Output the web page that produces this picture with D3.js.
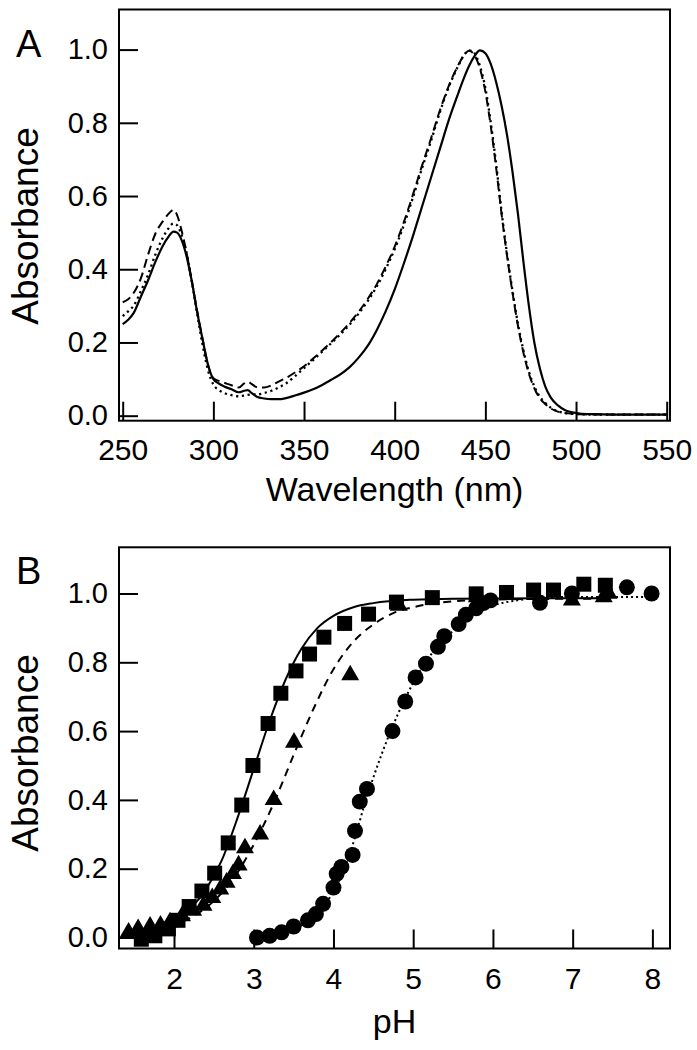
<!DOCTYPE html>
<html>
<head>
<meta charset="utf-8">
<script src="https://cdn.jsdelivr.net/npm/d3@7"></script>
<style>
  html, body { margin: 0; padding: 0; background: #fff; }
  svg { display: block; }
  text { font-family: "Liberation Sans", Arial, Helvetica, sans-serif; fill: #000; }
</style>
</head>
<body>
<svg id="chart" width="697" height="1050"></svg>
<script>
// ---------- Panel A data: absorption spectra ----------
const wavelengths = [250,253,256,260,264,268,272,275,278,280,282,285,288,291,294,297,300,303,306,310,314,317,319,321,324,328,332,336,340,345,350,355,360,365,370,375,380,385,390,395,400,405,410,415,420,425,430,435,438,441,444,447,450,453,456,459,462,465,468,471,474,477,480,483,486,490,494,498,502,510,520,530,540,550];
const specSolid = [0.25,0.262,0.28,0.325,0.37,0.42,0.463,0.487,0.503,0.50,0.485,0.44,0.37,0.285,0.21,0.14,0.10,0.088,0.08,0.072,0.064,0.068,0.07,0.062,0.052,0.047,0.045,0.045,0.048,0.055,0.063,0.072,0.084,0.098,0.113,0.132,0.158,0.19,0.233,0.285,0.345,0.415,0.49,0.57,0.65,0.73,0.81,0.88,0.92,0.955,0.982,0.998,0.99,0.96,0.91,0.845,0.765,0.665,0.55,0.42,0.30,0.20,0.13,0.08,0.05,0.028,0.015,0.009,0.006,0.004,0.003,0.003,0.003,0.003];
const specDotted = [0.272,0.285,0.30,0.34,0.385,0.44,0.485,0.51,0.525,0.52,0.50,0.45,0.37,0.28,0.195,0.125,0.085,0.07,0.062,0.056,0.053,0.055,0.057,0.058,0.058,0.062,0.068,0.077,0.088,0.108,0.13,0.152,0.175,0.198,0.222,0.248,0.278,0.312,0.352,0.40,0.455,0.52,0.595,0.675,0.75,0.83,0.90,0.955,0.983,0.998,0.99,0.955,0.895,0.80,0.685,0.555,0.44,0.34,0.25,0.178,0.12,0.08,0.052,0.035,0.022,0.012,0.007,0.005,0.004,0.003,0.003,0.003,0.003,0.003];
const specDashed = [0.31,0.318,0.335,0.375,0.44,0.497,0.53,0.55,0.562,0.548,0.515,0.45,0.372,0.288,0.21,0.14,0.102,0.095,0.09,0.083,0.077,0.088,0.093,0.087,0.078,0.077,0.083,0.093,0.103,0.118,0.135,0.156,0.178,0.201,0.226,0.253,0.283,0.318,0.358,0.407,0.462,0.528,0.603,0.682,0.757,0.835,0.903,0.957,0.983,0.997,0.985,0.948,0.885,0.79,0.675,0.548,0.435,0.335,0.245,0.172,0.115,0.075,0.048,0.032,0.02,0.011,0.007,0.005,0.004,0.003,0.003,0.003,0.003,0.003];
const ticksA_x = [250,300,350,400,450,500,550];
const ticksA_y = [0.0,0.2,0.4,0.6,0.8,1.0];

// ---------- Panel B data: pH titration ----------
const squaresPH  = [1.59,1.76,1.93,2.05,2.19,2.35,2.51,2.68,2.85,2.99,3.18,3.34,3.53,3.70,3.88,4.14,4.44,4.79,5.24,5.79,6.17,6.51,6.76,7.14,7.41];
const squaresAbs = [-0.005,0.005,0.025,0.05,0.09,0.135,0.187,0.275,0.385,0.50,0.622,0.71,0.775,0.824,0.873,0.913,0.94,0.975,0.988,0.999,1.003,1.01,1.01,1.027,1.024];
const trianglesPH  = [1.43,1.55,1.70,1.83,1.95,2.10,2.24,2.37,2.48,2.58,2.66,2.74,2.81,2.89,3.08,3.25,3.505,4.21,4.82,5.80,6.99,7.39,7.45];
const trianglesAbs = [0.015,0.025,0.032,0.035,0.045,0.062,0.078,0.093,0.115,0.14,0.16,0.185,0.21,0.26,0.30,0.40,0.567,0.763,0.965,0.99,0.98,0.99,1.0];
const circlesPH  = [3.04,3.20,3.35,3.50,3.68,3.78,3.87,4.00,4.04,4.10,4.24,4.27,4.33,4.42,4.74,4.90,5.03,5.16,5.31,5.39,5.57,5.66,5.79,5.88,5.97,6.59,6.99,7.68,7.99];
const circlesAbs = [0.0,0.005,0.015,0.032,0.05,0.068,0.098,0.145,0.185,0.205,0.24,0.31,0.395,0.432,0.60,0.686,0.756,0.796,0.845,0.876,0.911,0.938,0.957,0.972,0.98,0.973,1.0,1.018,1.0];
// fitted curves
const fitSolidPH  = [1.59,1.8,2.0,2.2,2.4,2.6,2.8,3.0,3.2,3.4,3.6,3.8,4.0,4.25,4.5,5.0,5.5,6.5,7.45];
const fitSolidAbs = [0.015,0.026,0.047,0.083,0.14,0.225,0.35,0.49,0.63,0.75,0.84,0.90,0.935,0.96,0.972,0.982,0.985,0.986,0.986];
const fitDashedPH  = [1.43,1.7,2.0,2.25,2.5,2.75,3.0,3.25,3.5,3.75,4.0,4.25,4.5,4.75,5.0,5.5,6.0,6.5,7.45];
const fitDashedAbs = [0.011,0.02,0.036,0.063,0.106,0.173,0.27,0.39,0.53,0.665,0.78,0.86,0.91,0.943,0.96,0.977,0.982,0.984,0.985];
const fitDottedPH  = [3.04,3.3,3.5,3.7,3.85,4.0,4.1,4.2,4.3,4.4,4.5,4.6,4.7,4.8,4.9,5.0,5.1,5.2,5.3,5.45,5.6,5.8,6.0,6.3,6.6,7.0,7.5,8.0];
const fitDottedAbs = [0.003,0.01,0.025,0.05,0.08,0.135,0.18,0.24,0.315,0.395,0.465,0.53,0.59,0.645,0.695,0.74,0.78,0.815,0.845,0.88,0.915,0.945,0.965,0.98,0.988,0.99,0.99,0.99];
const ticksB_x = [2,3,4,5,6,7,8];
const ticksB_y = [0.0,0.2,0.4,0.6,0.8,1.0];

const svg = d3.select("#chart");
svg.append("rect").attr("width",697).attr("height",1050).attr("fill","#fff");

function panel(cfg) {
  const g = svg.append("g");
  const x = d3.scaleLinear().domain(cfg.xDomain).range([cfg.left, cfg.right]);
  const y = d3.scaleLinear().domain(cfg.yDomain).range([cfg.bottom, cfg.top]);

  const ya = g.append("g").attr("transform", `translate(${cfg.left},0)`)
    .call(d3.axisLeft(y).tickValues(cfg.yTicks).tickSize(-19).tickPadding(11).tickFormat(d3.format(".1f")));
  ya.select(".domain").remove();
  ya.selectAll("line").attr("stroke","#000").attr("stroke-width",2);
  ya.selectAll("text").style("font-size","29px").attr("fill","#000");

  const xa = g.append("g").attr("transform", `translate(0,${cfg.bottom})`)
    .call(d3.axisBottom(x).tickValues(cfg.xTicks).tickSize(-19).tickPadding(cfg.xPad).tickFormat(cfg.xFormat));
  xa.select(".domain").remove();
  xa.selectAll("line").attr("stroke","#000").attr("stroke-width",2);
  xa.selectAll("text").style("font-size","30px").attr("fill","#000");

  g.append("rect").attr("x",cfg.left).attr("y",cfg.top)
    .attr("width",cfg.right-cfg.left).attr("height",cfg.bottom-cfg.top)
    .attr("fill","none").attr("stroke","#000").attr("stroke-width",2);

  g.append("text").attr("x",16).attr("y",cfg.letterY).style("font-size","38px").text(cfg.letter);
  g.append("text").attr("transform",`translate(38,${cfg.yLabelY}) rotate(-90)`)
    .attr("text-anchor","middle").style("font-size","37px").text("Absorbance");
  g.append("text").attr("x",(cfg.left+cfg.right)/2).attr("y",cfg.xLabelY)
    .attr("text-anchor","middle").style("font-size",cfg.xLabelSize).text(cfg.xLabel);
  return {g, x, y};
}

// ---------- Panel A ----------
const A = panel({
  left:119, right:670, top:9.5, bottom:420.7,
  xDomain:[247.96,551.82], yDomain:[-0.0137,1.1095],
  xTicks:ticksA_x, yTicks:ticksA_y, xPad:18.5, xFormat:d3.format("d"),
  letter:"A", letterY:56.5, yLabelY:226, xLabel:"Wavelength (nm)", xLabelY:501, xLabelSize:"34px"
});
const lineA = (vals) => d3.line().curve(d3.curveMonotoneX)
  .x((d,i)=>A.x(wavelengths[i])).y(d=>A.y(d))(vals);
A.g.append("path").attr("d",lineA(specDashed)).attr("fill","none").attr("stroke","#000")
  .attr("stroke-width",2).attr("stroke-dasharray","9,5");
A.g.append("path").attr("d",lineA(specDotted)).attr("fill","none").attr("stroke","#000")
  .attr("stroke-width",2.3).attr("stroke-dasharray","2.2,3.6");
A.g.append("path").attr("d",lineA(specSolid)).attr("fill","none").attr("stroke","#000")
  .attr("stroke-width",2.2);

// ---------- Panel B ----------
const B = panel({
  left:119, right:670, top:547.3, bottom:948.5,
  xDomain:[1.3102,8.2208], yDomain:[-0.032,1.1343],
  xTicks:ticksB_x, yTicks:ticksB_y, xPad:19, xFormat:d3.format("d"),
  letter:"B", letterY:584, yLabelY:753, xLabel:"pH", xLabelY:1033, xLabelSize:"34px"
});
const lineB = (xs, ys) => d3.line().curve(d3.curveMonotoneX)
  .x((d,i)=>B.x(xs[i])).y(d=>B.y(d))(ys);
B.g.append("path").attr("d",lineB(fitSolidPH,fitSolidAbs)).attr("fill","none")
  .attr("stroke","#000").attr("stroke-width",2);
B.g.append("path").attr("d",lineB(fitDashedPH,fitDashedAbs)).attr("fill","none")
  .attr("stroke","#000").attr("stroke-width",2).attr("stroke-dasharray","8,6");
B.g.append("path").attr("d",lineB(fitDottedPH,fitDottedAbs)).attr("fill","none")
  .attr("stroke","#000").attr("stroke-width",2).attr("stroke-dasharray","2,3");

function markers(xs, ys, type, size) {
  B.g.append("g").selectAll("path").data(ys).join("path")
    .attr("transform",(d,i)=>`translate(${B.x(xs[i])},${B.y(d)})`)
    .attr("d", d3.symbol().type(type).size(size)())
    .attr("fill","#000");
}
markers(squaresPH, squaresAbs, d3.symbolSquare, 225);
markers(trianglesPH, trianglesAbs, d3.symbolTriangle, 140);
markers(circlesPH, circlesAbs, d3.symbolCircle, 200);
</script>
</body>
</html>
